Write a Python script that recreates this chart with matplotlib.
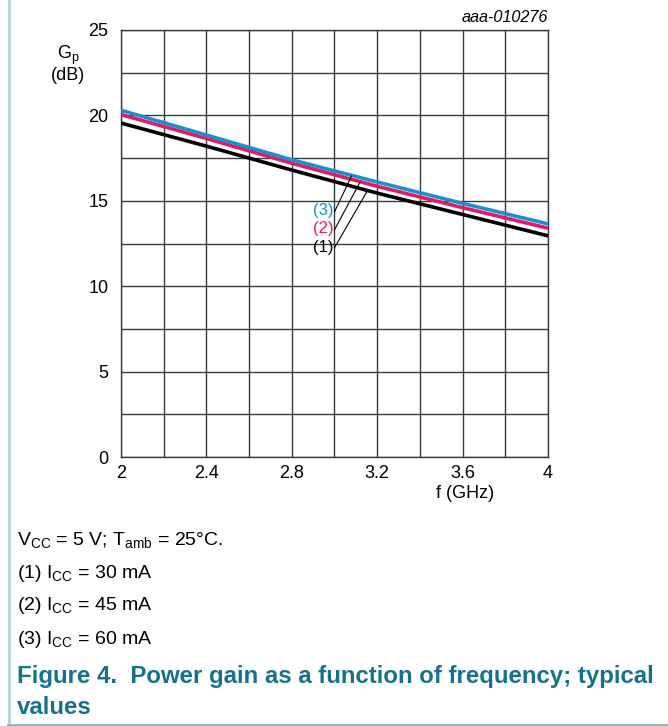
import matplotlib.pyplot as plt
from matplotlib.lines import Line2D

plt.rcParams['font.family'] = 'Liberation Sans'
plt.rcParams['mathtext.fontset'] = 'custom'
plt.rcParams['mathtext.rm'] = 'Liberation Sans'
plt.rcParams['mathtext.it'] = 'Liberation Sans:italic'

# data
freq = [2.0, 2.4, 2.8, 3.2, 3.6, 4.0]
gp_30mA = [19.55, 18.2, 16.8, 15.45, 14.2, 12.95]
gp_45mA = [20.05, 18.65, 17.2, 15.85, 14.6, 13.4]
gp_60mA = [20.3, 18.85, 17.4, 16.1, 14.85, 13.65]
x_ticks = [2, 2.4, 2.8, 3.2, 3.6, 4]
x_ticklabels = ['2', '2.4', '2.8', '3.2', '3.6', '4']
y_ticks = [0, 5, 10, 15, 20, 25]

teal = '#16728c'
grid_c = '#3a3a3a'

fig = plt.figure(figsize=(6.68, 7.26), dpi=100)
ax = fig.add_axes([0.1811, 0.3705, 0.6392, 0.5882])

ax.plot(freq, gp_30mA, color='black', lw=2.6, solid_capstyle='butt', zorder=3)
ax.plot(freq, gp_45mA, color='#e5195e', lw=2.6, solid_capstyle='butt', zorder=4)
ax.plot(freq, gp_60mA, color='#1a8fd0', lw=2.6, solid_capstyle='butt', zorder=5)

ax.set_xlim(2, 4)
ax.set_ylim(0, 25)
ax.set_xticks(x_ticks)
ax.set_xticklabels(x_ticklabels)
ax.set_yticks(y_ticks)
ax.set_xticks([2 + 0.2 * i for i in range(11)], minor=True)
ax.set_yticks([2.5 * i for i in range(11)], minor=True)
ax.grid(True, which='both', color=grid_c, lw=1.0)
ax.tick_params(which='both', length=0, labelsize=13, pad=6)
ax.tick_params(axis='y', pad=9)
for s in ax.spines.values():
    s.set_color(grid_c)
    s.set_linewidth(1.0)

# curve labels with leader lines
ax.text(2.995, 14.46, '(3)', color='#1a8fd0', fontsize=12, ha='right', va='center')
ax.text(2.995, 13.35, '(2)', color='#e5195e', fontsize=12, ha='right', va='center')
ax.text(2.995, 12.24, '(1)', color='black', fontsize=12, ha='right', va='center')
ax.plot([3.0, 3.08], [14.35, 16.45], color='black', lw=0.8, zorder=6)
ax.plot([3.0, 3.12], [13.3, 16.1], color='black', lw=0.8, zorder=6)
ax.plot([3.0, 3.155], [12.25, 15.6], color='black', lw=0.8, zorder=6)

fig.text(68 / 668, 1 - 55 / 726, r'G$_\mathrm{p}$', fontsize=13, ha='center', va='center')
fig.text(68 / 668, 1 - 75 / 726, '(dB)', fontsize=13, ha='center', va='center')
fig.text(465 / 668, 1 - 493 / 726, 'f (GHz)', fontsize=13, ha='center', va='center')
fig.text(548 / 668, 1 - 17 / 726, 'aaa-010276', fontsize=11.7, style='italic',
         ha='right', va='center')

# caption
cap_lines = [r'V$_\mathrm{CC}$ = 5 V; T$_\mathrm{amb}$ = 25°C.',
             r'(1) I$_\mathrm{CC}$ = 30 mA',
             r'(2) I$_\mathrm{CC}$ = 45 mA',
             r'(3) I$_\mathrm{CC}$ = 60 mA']
for i, t in enumerate(cap_lines):
    fig.text(17 / 668, 1 - (540 + 33 * i) / 726, t, fontsize=14, va='center', ha='left')
fig.text(17 / 668, 1 - 677 / 726, 'Figure 4.  Power gain as a function of frequency; typical',
         fontsize=17.3, fontweight='bold', color=teal, va='center', ha='left')
fig.text(17 / 668, 1 - 708 / 726, 'values',
         fontsize=17.3, fontweight='bold', color=teal, va='center', ha='left')

# page borders
fig.add_artist(Line2D([8.5 / 668, 8.5 / 668], [1 - 724 / 726, 1], color='#b7d3dc', lw=2))
fig.add_artist(Line2D([8 / 668, 1], [1 - 724.5 / 726, 1 - 724.5 / 726], color='#86b6c4', lw=2))

fig.savefig('out.png', dpi=100)
